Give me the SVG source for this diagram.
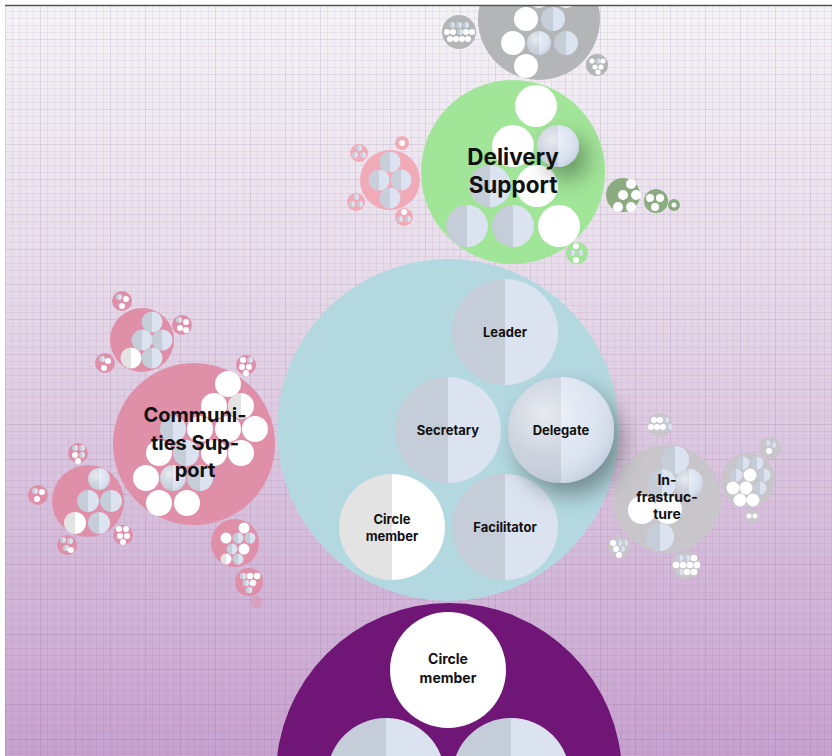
<svg xmlns="http://www.w3.org/2000/svg" width="832" height="756" viewBox="0 0 832 756">
  <defs>
    <linearGradient id="bg" x1="0" y1="0" x2="0" y2="1">
      <stop offset="0" stop-color="#f4f3f6"/>
      <stop offset="0.35" stop-color="#e8dcea"/>
      <stop offset="0.7" stop-color="#d6bddb"/>
      <stop offset="1" stop-color="#c7a2cf"/>
    </linearGradient>
    <pattern id="gridMinor" x="6" y="5" width="7" height="7" patternUnits="userSpaceOnUse">
      <path d="M7 0V7M0 7H7" fill="none" stroke="#5a3c6e" stroke-opacity="0.15" stroke-width="1"/>
    </pattern>
    <pattern id="gridMajor" x="6" y="5" width="35" height="35" patternUnits="userSpaceOnUse">
      <path d="M35 0V35M0 35H35" fill="none" stroke="#5a3c6e" stroke-opacity="0.12" stroke-width="1"/>
    </pattern>
    <linearGradient id="split" x1="0" y1="0" x2="1" y2="0">
      <stop offset="0.5" stop-color="#c5cdd9"/>
      <stop offset="0.5" stop-color="#dbe3f1"/>
    </linearGradient>
    <linearGradient id="splitw" x1="0" y1="0" x2="1" y2="0">
      <stop offset="0.5" stop-color="#e3e3e3"/>
      <stop offset="0.5" stop-color="#ffffff"/>
    </linearGradient>
    <radialGradient id="gloss" cx="0.35" cy="0.35" r="0.7">
      <stop offset="0" stop-color="#ffffff" stop-opacity="0.6"/>
      <stop offset="0.6" stop-color="#ffffff" stop-opacity="0.1"/>
      <stop offset="1" stop-color="#9aa7bb" stop-opacity="0.3"/>
    </radialGradient>
    <filter id="lift" x="-50%" y="-50%" width="230%" height="230%">
      <feDropShadow dx="9" dy="12" stdDeviation="11" flood-color="#000" flood-opacity="0.35"/>
    </filter>
    <clipPath id="frame">
      <rect x="5" y="5" width="827" height="751"/>
    </clipPath>
    <style>
      .lbl { font-family: Inter, "Liberation Sans", sans-serif; font-weight: 700; fill: #111; text-anchor: middle; }
      .big { font-size: 22.5px; }
      .mid { font-size: 20px; }
      .sm { font-size: 13px; }
      .xs { font-size: 14px; }
      .w { fill: #ffffff; }
      .s { fill: url(#split); }
      .sw { fill: url(#splitw); }
      .g { fill: url(#gloss); }
      .pink { fill: #e08fa9; }
      .pinkl { fill: #f2a6b3; }
      .gray { fill: #b4b5b6; }
      .grayl { fill: #c9c6cb; }
      .dgreen { fill: #8bac81; }
    </style>
  </defs>

  <rect width="832" height="756" fill="#ffffff"/>
  <g clip-path="url(#frame)">
    <rect x="5" y="5" width="827" height="751" fill="url(#bg)"/>
    <rect x="5" y="5" width="827" height="751" fill="url(#gridMinor)"/>
    <rect x="5" y="5" width="827" height="751" fill="url(#gridMajor)"/>

    <!-- top gray cluster -->
    <g id="top-cluster">
      <circle class="gray" cx="539" cy="19" r="61"/>
      <circle class="w" cx="539" cy="-4" r="12"/>
      <circle class="w" cx="566" cy="-4" r="12"/>
      <circle class="w" cx="526" cy="19" r="12"/>
      <circle class="s" cx="553" cy="19" r="12"/>
      <circle class="w" cx="513" cy="43" r="12"/>
      <circle class="s" cx="539" cy="43" r="12"/>
      <circle class="g" cx="539" cy="43" r="12"/>
      <circle class="s" cx="566" cy="43" r="12"/>
      <circle class="w" cx="526" cy="66" r="12"/>
      <g id="top-sat-left">
        <circle class="gray" cx="459" cy="32" r="17"/>
        <circle class="s" cx="452" cy="25" r="3"/>
        <circle class="s" cx="459" cy="25" r="3"/>
        <circle class="s" cx="466" cy="25" r="3"/>
        <circle class="w" cx="447" cy="32" r="3"/>
        <circle class="w" cx="453" cy="32" r="3"/>
        <circle class="s" cx="460" cy="32" r="3"/>
        <circle class="w" cx="466" cy="32" r="3"/>
        <circle class="w" cx="472" cy="32" r="3"/>
        <circle class="w" cx="450" cy="39" r="3"/>
        <circle class="w" cx="456" cy="39" r="3"/>
        <circle class="w" cx="462" cy="39" r="3"/>
        <circle class="w" cx="468" cy="39" r="3"/>
      </g>
      <g id="top-sat-right">
        <circle class="gray" cx="597" cy="65" r="11"/>
        <circle class="w" cx="592" cy="61" r="2.6"/>
        <circle class="s" cx="598" cy="61" r="2.6"/>
        <circle class="w" cx="603" cy="61" r="2.6"/>
        <circle class="w" cx="595" cy="67" r="2.6"/>
        <circle class="w" cx="601" cy="67" r="2.6"/>
        <circle class="w" cx="598" cy="72" r="2.6"/>
      </g>
    </g>

    <!-- Delivery Support -->
    <g id="delivery-support">
      <circle fill="#a1e598" cx="513" cy="172" r="92"/>
      <circle class="w" cx="536" cy="106" r="21"/>
      <circle class="w" cx="513" cy="146" r="21"/>
      <circle class="s" cx="490" cy="186" r="21"/>
      <circle class="w" cx="537" cy="186" r="21"/>
      <g filter="url(#lift)">
        <circle class="s" cx="558" cy="146" r="21"/>
      </g>
      <circle class="g" cx="558" cy="146" r="21"/>
      <circle class="s" cx="467" cy="226" r="21"/>
      <circle class="s" cx="513" cy="226" r="21"/>
      <circle class="w" cx="559" cy="226" r="21"/>
      <text class="lbl big" x="513" y="165">Delivery</text>
      <text class="lbl big" x="513" y="193">Support</text>
    </g>

    <!-- pink cluster beside Delivery Support -->
    <g id="delivery-pink" opacity="0.9">
      <circle class="pinkl" cx="390" cy="180" r="30"/>
      <circle class="s" cx="390" cy="162" r="10.5"/>
      <circle class="s" cx="379" cy="180" r="10.5"/>
      <circle class="s" cx="401" cy="180" r="10.5"/>
      <circle class="s" cx="390" cy="198" r="10.5"/>
      <circle class="pinkl" cx="359" cy="153" r="9"/>
      <circle class="s" cx="359" cy="148" r="3"/>
      <circle class="s" cx="355" cy="155" r="3"/>
      <circle class="s" cx="363" cy="155" r="3"/>
      <circle class="pinkl" cx="402" cy="143" r="7"/>
      <circle class="w" cx="402" cy="143" r="3"/>
      <circle class="pinkl" cx="356" cy="202" r="9"/>
      <circle class="s" cx="356" cy="197" r="3"/>
      <circle class="s" cx="352" cy="204" r="3"/>
      <circle class="s" cx="360" cy="204" r="3"/>
      <circle class="pinkl" cx="404" cy="217" r="9"/>
      <circle class="w" cx="404" cy="212" r="3"/>
      <circle class="s" cx="400" cy="219" r="3"/>
      <circle class="s" cx="408" cy="219" r="3"/>
    </g>

    <!-- green satellites -->
    <g id="delivery-green-sats">
      <circle class="dgreen" cx="623" cy="195" r="17"/>
      <circle class="w" cx="631" cy="184" r="5"/>
      <circle class="w" cx="623" cy="195" r="5"/>
      <circle class="w" cx="636" cy="195" r="5"/>
      <circle class="w" cx="618" cy="207" r="5"/>
      <circle class="w" cx="631" cy="207" r="5"/>
      <circle class="dgreen" cx="656" cy="201" r="12"/>
      <circle class="w" cx="650" cy="198" r="4"/>
      <circle class="w" cx="660" cy="198" r="4"/>
      <circle class="w" cx="655" cy="207" r="4"/>
      <circle class="dgreen" cx="674" cy="205" r="6"/>
      <circle class="w" cx="674" cy="205" r="2.5"/>
      <circle fill="#a1e598" cx="577" cy="253" r="11"/>
      <circle class="w" cx="576" cy="246" r="3"/>
      <circle class="s" cx="572" cy="253" r="3"/>
      <circle class="s" cx="580" cy="253" r="3"/>
      <circle class="w" cx="576" cy="260" r="3"/>
    </g>

    <!-- Infrastructure -->
    <g id="infrastructure">
      <circle class="grayl" cx="667" cy="499" r="54"/>
      <circle class="s" cx="675" cy="460" r="14"/>
      <circle class="s" cx="662" cy="483" r="14"/>
      <circle class="s" cx="689" cy="483" r="14"/>
      <circle class="g" cx="689" cy="483" r="14"/>
      <circle class="w" cx="642" cy="510" r="14"/>
      <circle class="w" cx="668" cy="510" r="14"/>
      <circle class="s" cx="660" cy="537" r="14"/>
      <text class="lbl xs" x="667" y="485">In-</text>
      <text class="lbl xs" x="667" y="502">frastruc-</text>
      <text class="lbl xs" x="667" y="519">ture</text>
    </g>
    <g id="infrastructure-sats">
      <circle class="grayl" cx="660" cy="425" r="12"/>
      <circle class="w" cx="654" cy="420" r="3"/>
      <circle class="w" cx="660" cy="420" r="3"/>
      <circle class="s" cx="666" cy="420" r="3"/>
      <circle class="w" cx="651" cy="427" r="3"/>
      <circle class="w" cx="657" cy="427" r="3"/>
      <circle class="w" cx="663" cy="427" r="3"/>
      <circle class="s" cx="669" cy="427" r="3"/>
      <circle class="grayl" cx="770" cy="448" r="11"/>
      <circle class="s" cx="767" cy="443" r="3"/>
      <circle class="s" cx="773" cy="445" r="3"/>
      <circle class="w" cx="769" cy="451" r="3"/>
      <circle class="grayl" cx="748" cy="480" r="27"/>
      <circle class="s" cx="743" cy="463" r="6.5"/>
      <circle class="s" cx="757" cy="463" r="6.5"/>
      <circle class="s" cx="736" cy="475" r="6.5"/>
      <circle class="w" cx="750" cy="475" r="6.5"/>
      <circle class="s" cx="764" cy="475" r="6.5"/>
      <circle class="w" cx="733" cy="488" r="6.5"/>
      <circle class="w" cx="746" cy="488" r="6.5"/>
      <circle class="s" cx="760" cy="488" r="6.5"/>
      <circle class="w" cx="740" cy="500" r="6.5"/>
      <circle class="w" cx="753" cy="500" r="6.5"/>
      <circle class="grayl" cx="752" cy="516" r="7"/>
      <circle class="w" cx="749" cy="516" r="2.5"/>
      <circle class="w" cx="755" cy="516" r="2.5"/>
      <circle class="grayl" cx="619" cy="547" r="11"/>
      <circle class="w" cx="613" cy="543" r="3"/>
      <circle class="s" cx="619" cy="543" r="3"/>
      <circle class="s" cx="625" cy="543" r="3"/>
      <circle class="w" cx="616" cy="549" r="3"/>
      <circle class="s" cx="622" cy="549" r="3"/>
      <circle class="w" cx="619" cy="555" r="3"/>
      <circle class="grayl" cx="686" cy="565" r="14"/>
      <circle class="s" cx="680" cy="558" r="3.3"/>
      <circle class="s" cx="687" cy="558" r="3.3"/>
      <circle class="w" cx="694" cy="558" r="3.3"/>
      <circle class="w" cx="676" cy="565" r="3.3"/>
      <circle class="w" cx="683" cy="565" r="3.3"/>
      <circle class="w" cx="690" cy="565" r="3.3"/>
      <circle class="w" cx="697" cy="565" r="3.3"/>
      <circle class="s" cx="680" cy="572" r="3.3"/>
      <circle class="w" cx="687" cy="572" r="3.3"/>
      <circle class="w" cx="694" cy="572" r="3.3"/>
    </g>

    <!-- central circle with its roles -->
    <g id="circle">
      <circle fill="#b3d8df" cx="448" cy="430" r="171"/>
      <g id="role-leader">
        <circle class="s" cx="505" cy="332" r="53"/>
        <text class="lbl sm" x="505" y="337">Leader</text>
      </g>
      <g id="role-secretary">
        <circle class="s" cx="448" cy="430" r="53"/>
        <text class="lbl sm" x="448" y="435">Secretary</text>
      </g>
      <g id="role-circle-member">
        <circle class="sw" cx="392" cy="527" r="53"/>
        <text class="lbl sm" x="392" y="524">Circle</text>
        <text class="lbl sm" x="392" y="541">member</text>
      </g>
      <g id="role-facilitator">
        <circle class="s" cx="505" cy="527" r="53"/>
        <text class="lbl sm" x="505" y="532">Facilitator</text>
      </g>
      <g id="role-delegate">
        <g filter="url(#lift)">
          <circle class="s" cx="561" cy="430" r="53"/>
        </g>
        <circle class="g" cx="561" cy="430" r="53"/>
        <text class="lbl sm" x="561" y="435">Delegate</text>
      </g>
    </g>

    <!-- Communities Support -->
    <g id="communities-support">
      <circle class="pink" cx="194" cy="444" r="81"/>
      <circle class="w" cx="228" cy="384" r="13"/>
      <circle class="w" cx="214" cy="406" r="13"/>
      <circle class="sw" cx="241" cy="406" r="13"/>
      <circle class="s" cx="173" cy="429" r="13"/>
      <circle class="w" cx="200" cy="429" r="13"/>
      <circle class="w" cx="228" cy="429" r="13"/>
      <circle class="w" cx="255" cy="429" r="13"/>
      <circle class="w" cx="159" cy="453" r="13"/>
      <circle class="s" cx="186" cy="453" r="13"/>
      <circle class="w" cx="214" cy="453" r="13"/>
      <circle class="w" cx="241" cy="453" r="13"/>
      <circle class="w" cx="146" cy="478" r="13"/>
      <circle class="s" cx="173" cy="478" r="13"/>
      <circle class="g" cx="173" cy="478" r="13"/>
      <circle class="s" cx="200" cy="478" r="13"/>
      <circle class="w" cx="159" cy="503" r="13"/>
      <circle class="w" cx="187" cy="503" r="13"/>
      <text class="lbl mid" x="195" y="422">Communi-</text>
      <text class="lbl mid" x="195" y="450">ties Sup-</text>
      <text class="lbl mid" x="195" y="477">port</text>
    </g>

    <g id="communities-cluster-upper">
      <circle class="pink" cx="142" cy="340" r="32"/>
      <circle class="s" cx="152" cy="322" r="10.5"/>
      <circle class="s" cx="142" cy="340" r="10.5"/>
      <circle class="s" cx="162" cy="340" r="10.5"/>
      <circle class="sw" cx="131" cy="358" r="10.5"/>
      <circle class="s" cx="152" cy="358" r="10.5"/>
      <circle class="pink" cx="122" cy="301" r="10"/>
      <circle class="s" cx="119" cy="297" r="3"/>
      <circle class="w" cx="126" cy="299" r="3"/>
      <circle class="w" cx="122" cy="306" r="3"/>
      <circle class="pink" cx="182" cy="325" r="10"/>
      <circle class="s" cx="179" cy="320" r="3"/>
      <circle class="w" cx="186" cy="322" r="3"/>
      <circle class="w" cx="180" cy="328" r="3"/>
      <circle class="w" cx="186" cy="330" r="3"/>
      <circle class="pink" cx="105" cy="363" r="10"/>
      <circle class="s" cx="102" cy="359" r="3"/>
      <circle class="w" cx="108" cy="361" r="3"/>
      <circle class="w" cx="104" cy="368" r="3"/>
      <circle class="pink" cx="246" cy="365" r="10"/>
      <circle class="w" cx="243" cy="360" r="3"/>
      <circle class="s" cx="250" cy="360" r="3"/>
      <circle class="w" cx="242" cy="367" r="3"/>
      <circle class="w" cx="249" cy="367" r="3"/>
      <circle class="w" cx="246" cy="373" r="3"/>
    </g>

    <g id="communities-cluster-lower">
      <circle class="pink" cx="88" cy="501" r="36"/>
      <circle class="s" cx="99" cy="479" r="11"/>
      <circle class="g" cx="99" cy="479" r="11"/>
      <circle class="s" cx="88" cy="501" r="11"/>
      <circle class="s" cx="111" cy="501" r="11"/>
      <circle class="sw" cx="75" cy="523" r="11"/>
      <circle class="s" cx="99" cy="523" r="11"/>
      <circle class="pink" cx="78" cy="453" r="10"/>
      <circle class="s" cx="75" cy="448" r="3"/>
      <circle class="s" cx="82" cy="448" r="3"/>
      <circle class="w" cx="75" cy="455" r="3"/>
      <circle class="s" cx="82" cy="455" r="3"/>
      <circle class="w" cx="78" cy="461" r="3"/>
      <circle class="pink" cx="38" cy="495" r="10"/>
      <circle class="s" cx="35" cy="491" r="3"/>
      <circle class="w" cx="42" cy="492" r="3"/>
      <circle class="w" cx="37" cy="499" r="3"/>
      <circle class="pink" cx="67" cy="545" r="10"/>
      <circle class="s" cx="63" cy="540" r="3"/>
      <circle class="s" cx="70" cy="541" r="3"/>
      <circle class="s" cx="66" cy="548" r="3"/>
      <circle class="w" cx="71" cy="550" r="3"/>
      <circle class="pink" cx="123" cy="535" r="10"/>
      <circle class="w" cx="119" cy="529" r="3"/>
      <circle class="w" cx="126" cy="529" r="3"/>
      <circle class="w" cx="120" cy="536" r="3"/>
      <circle class="w" cx="127" cy="536" r="3"/>
      <circle class="w" cx="123" cy="542" r="3"/>
      <circle class="pink" cx="235" cy="543" r="24"/>
      <circle class="w" cx="244" cy="528" r="5.5"/>
      <circle class="w" cx="226" cy="538" r="5.5"/>
      <circle class="s" cx="238" cy="538" r="5.5"/>
      <circle class="s" cx="250" cy="538" r="5.5"/>
      <circle class="s" cx="232" cy="549" r="5.5"/>
      <circle class="w" cx="244" cy="549" r="5.5"/>
      <circle class="sw" cx="226" cy="559" r="5.5"/>
      <circle class="s" cx="238" cy="559" r="5.5"/>
      <circle class="pink" cx="249" cy="582" r="14"/>
      <circle class="s" cx="243" cy="576" r="3.3"/>
      <circle class="w" cx="250" cy="576" r="3.3"/>
      <circle class="w" cx="257" cy="576" r="3.3"/>
      <circle class="s" cx="246" cy="583" r="3.3"/>
      <circle class="w" cx="253" cy="583" r="3.3"/>
      <circle class="s" cx="249" cy="590" r="3.3"/>
      <circle class="pink" cx="257" cy="602" r="6" opacity="0.5"/>
    </g>

    <!-- purple circle below -->
    <g id="purple-circle">
      <circle fill="#701677" cx="449" cy="776" r="173"/>
      <circle class="s" cx="386" cy="777" r="59"/>
      <circle class="s" cx="511" cy="777" r="59"/>
      <g id="purple-circle-member">
        <circle class="w" cx="448" cy="670" r="58"/>
        <text class="lbl xs" x="448" y="664">Circle</text>
        <text class="lbl xs" x="448" y="683">member</text>
      </g>
    </g>
  </g>
  <line x1="5" y1="5.5" x2="832" y2="5.5" stroke="#555" stroke-width="1.5"/>
</svg>
